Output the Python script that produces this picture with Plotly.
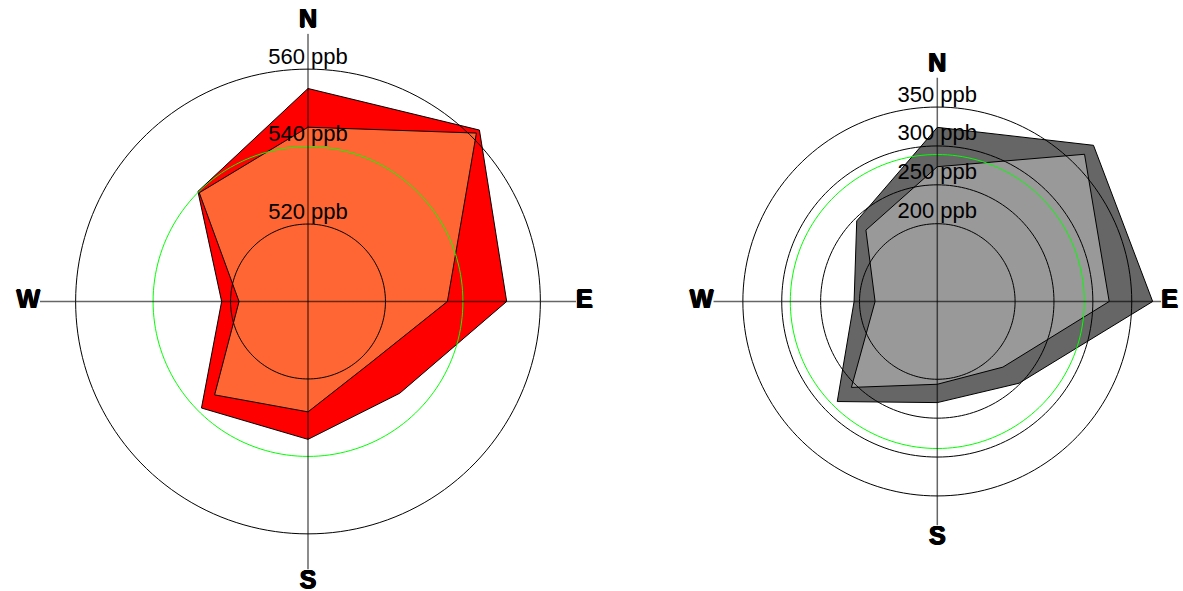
import plotly.graph_objects as go

# Compass directions, clockwise from north (degrees)
directions = ["N", "NE", "E", "SE", "S", "SW", "W", "NW"]
angles = [0, 45, 90, 135, 180, 225, 270, 315]

# Left rose (ppb)
left_outer = [555.0, 562.6, 551.3, 533.5, 535.6, 538.9, 522.3, 540.2]
left_inner = [545.0, 561.5, 536.0, 522.6, 528.5, 534.1, 517.8, 539.7]
left_ref = 540
left_ticks = [520, 540, 560]
left_grid = [520, 560]
left_range = [500, 569.2]

# Right rose (ppb)
right_outer = [323.9, 384.0, 376.9, 248.6, 230.0, 281.9, 207.0, 246.5]
right_inner = [273.3, 367.7, 321.0, 219.3, 206.4, 256.2, 180.0, 229.8]
right_ref = 289
right_ticks = [200, 250, 300, 350]
right_grid = [200, 250, 300, 350]
right_range = [100, 388]

compass_vals = [0, 90, 180, 270]
compass_text = ["N", "E", "S", "W"]
compass_pos = ["top center", "middle right", "bottom center", "middle left"]

circle_theta = list(range(0, 361, 2))

# heavy outline to give the compass letters a black-weight look
HEAVY = ("0.7px 0 0 black, -0.7px 0 0 black, "
         "0 0.7px 0 black, 0 -0.7px 0 black")


def closed(vals):
    return vals + vals[:1]


fig = go.Figure()


def add_rose(subplot, outer, inner, outer_color, inner_color, ref, ticks,
             grid, rng):
    theta = closed(angles)
    # filled roses
    fig.add_trace(go.Scatterpolar(
        r=closed(outer), theta=theta, mode="lines", fill="toself",
        fillcolor=outer_color, line=dict(color="black", width=1),
        subplot=subplot, hoverinfo="skip"))
    fig.add_trace(go.Scatterpolar(
        r=closed(inner), theta=theta, mode="lines", fill="toself",
        fillcolor=inner_color, line=dict(color="black", width=1),
        subplot=subplot, hoverinfo="skip"))
    # concentric rings drawn on top of the roses
    ring_r, ring_t = [], []
    for g in grid:
        ring_r += [g] * len(circle_theta) + [None]
        ring_t += circle_theta + [None]
    fig.add_trace(go.Scatterpolar(
        r=ring_r, theta=ring_t, mode="lines",
        line=dict(color="black", width=1), subplot=subplot,
        hoverinfo="skip", connectgaps=False))
    # reference ring
    fig.add_trace(go.Scatterpolar(
        r=[ref] * len(circle_theta), theta=circle_theta, mode="lines",
        line=dict(color="#00ff00", width=1), subplot=subplot,
        hoverinfo="skip"))
    # N-S and E-W cross
    lo, hi = rng
    fig.add_trace(go.Scatterpolar(
        r=[hi, lo, hi, None, hi, lo, hi],
        theta=[0, 0, 180, None, 90, 90, 270], mode="lines",
        line=dict(color="rgba(0,0,0,0.6)", width=1.5), subplot=subplot,
        hoverinfo="skip", connectgaps=False, cliponaxis=False))
    # ring labels along the north axis
    fig.add_trace(go.Scatterpolar(
        r=ticks, theta=[0] * len(ticks), mode="text",
        text=[f"{t} ppb" for t in ticks], textposition="top center",
        marker=dict(size=1),
        textfont=dict(family="Liberation Sans, Arial, sans-serif",
                      size=22, color="black"),
        cliponaxis=False, subplot=subplot, hoverinfo="skip"))
    # compass letters
    fig.add_trace(go.Scatterpolar(
        r=[hi] * 4, theta=compass_vals, mode="text", text=compass_text,
        textposition=compass_pos, marker=dict(size=1),
        textfont=dict(family="Liberation Sans, Arial, sans-serif", size=25,
                      color="black", weight="bold", shadow=HEAVY),
        cliponaxis=False, subplot=subplot, hoverinfo="skip"))


add_rose("polar", left_outer, left_inner, "#ff0000", "#ff6633",
         left_ref, left_ticks, left_grid, left_range)
add_rose("polar2", right_outer, right_inner, "#666666", "#999999",
         right_ref, right_ticks, right_grid, right_range)


def polar_layout(domain_x, domain_y, rng):
    return dict(
        domain=dict(x=domain_x, y=domain_y),
        bgcolor="white",
        radialaxis=dict(range=rng, visible=False, showgrid=False),
        angularaxis=dict(rotation=90, direction="clockwise",
                         showgrid=False, showline=False,
                         showticklabels=False, ticks=""),
    )


fig.update_layout(
    width=1183, height=591,
    margin=dict(l=0, r=0, t=0, b=0),
    paper_bgcolor="white",
    showlegend=False,
    polar=polar_layout([0.03381, 0.48690], [0.03638, 0.94332], left_range),
    polar2=polar_layout([0.60296, 0.98166], [0.11083, 0.86887], right_range),
)

fig.write_html("out.html")
